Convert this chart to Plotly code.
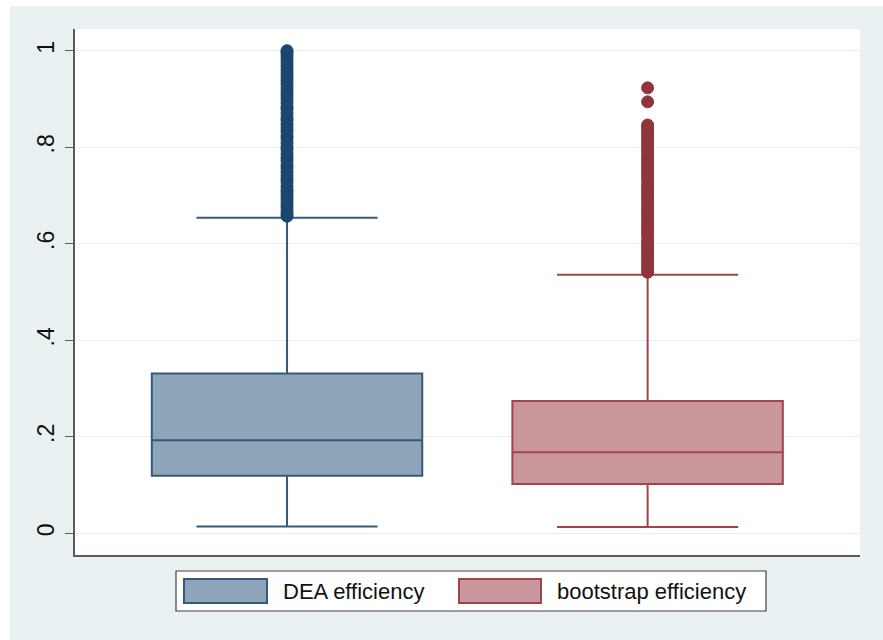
import plotly.graph_objects as go

# Summary statistics for each efficiency measure
series_names = ["DEA efficiency", "bootstrap efficiency"]
q1_vals = [0.119, 0.102]
median_vals = [0.193, 0.168]
q3_vals = [0.331, 0.274]
lower_fence = [0.014, 0.013]
upper_fence = [0.654, 0.536]

# Observations beyond the upper adjacent value
dea_outliers = [0.657, 0.662, 0.669, 0.677, 0.683, 0.691, 0.698, 0.706, 0.711, 0.719,
                0.728, 0.734, 0.741, 0.749, 0.757, 0.763, 0.772, 0.778, 0.786, 0.795,
                0.801, 0.809, 0.818, 0.824, 0.833, 0.840, 0.847, 0.856, 0.861, 0.870,
                0.879, 0.884, 0.892, 0.901, 0.908, 0.915, 0.923, 0.931, 0.938, 0.946,
                0.953, 0.961, 0.969, 0.977, 0.984, 0.991, 0.997, 1.0]
boot_outliers = [0.541, 0.546, 0.553, 0.560, 0.566, 0.574, 0.581, 0.587, 0.595, 0.602,
                 0.608, 0.617, 0.623, 0.631, 0.638, 0.644, 0.652, 0.659, 0.667, 0.673,
                 0.681, 0.689, 0.695, 0.703, 0.711, 0.718, 0.724, 0.733, 0.740, 0.746,
                 0.754, 0.762, 0.769, 0.776, 0.783, 0.791, 0.798, 0.805, 0.813, 0.820,
                 0.827, 0.834, 0.840, 0.846, 0.894, 0.923]
outlier_sets = [dea_outliers, boot_outliers]

y_ticks = [0, 0.2, 0.4, 0.6, 0.8, 1.0]
y_tick_labels = ["0", ".2", ".4", ".6", ".8", "1"]

fill_colors = ["#8ea4b8", "#c9969b"]
line_colors = ["#355a7d", "#a2444c"]
marker_colors = ["#1a476f", "#90353b"]

BG = "#eaf1f3"
FONT = "Liberation Sans, Arial, sans-serif"

fig = go.Figure()
for i in range(2):
    fig.add_trace(go.Box(
        x=[i], q1=[q1_vals[i]], median=[median_vals[i]], q3=[q3_vals[i]],
        lowerfence=[lower_fence[i]], upperfence=[upper_fence[i]],
        width=0.75, whiskerwidth=0.67, boxpoints=False,
        fillcolor=fill_colors[i], line=dict(color=line_colors[i], width=2),
        name=series_names[i], showlegend=False, hoverinfo="skip",
    ))
    fig.add_trace(go.Scatter(
        x=[i] * len(outlier_sets[i]), y=outlier_sets[i], mode="markers",
        marker=dict(size=12, color=marker_colors[i],
                    line=dict(color=marker_colors[i], width=1)),
        showlegend=False, hoverinfo="skip",
    ))

W, H = 883, 640
ml, mr, mt, mb = 75, 23, 29, 85
pw, ph = W - ml - mr, H - mt - mb


def px_x(x):
    return (x - ml) / pw


def px_y(y):
    return (H - mb - y) / ph


shapes = [
    # white strips around the graph region
    dict(type="rect", xref="paper", yref="paper", x0=px_x(0), x1=px_x(W),
         y0=px_y(0), y1=px_y(6), fillcolor="white", line=dict(width=0), layer="below"),
    dict(type="rect", xref="paper", yref="paper", x0=px_x(0), x1=px_x(10),
         y0=px_y(0), y1=px_y(H), fillcolor="white", line=dict(width=0), layer="below"),
    # legend frame
    dict(type="rect", xref="paper", yref="paper", x0=px_x(176), x1=px_x(766),
         y0=px_y(571), y1=px_y(611), fillcolor="white",
         line=dict(color="#404040", width=1.2)),
]
annotations = []
key_x = [(184, 267), (459, 541)]
text_x = [281, 555]
for i in range(2):
    shapes.append(dict(type="rect", xref="paper", yref="paper",
                       x0=px_x(key_x[i][0]), x1=px_x(key_x[i][1]),
                       y0=px_y(579), y1=px_y(603), fillcolor=fill_colors[i],
                       line=dict(color=line_colors[i], width=2)))
    annotations.append(dict(xref="paper", yref="paper", x=px_x(text_x[i]), y=px_y(591),
                            xanchor="left", yanchor="middle", showarrow=False,
                            text=series_names[i],
                            font=dict(family=FONT, size=22, color="#111111")))

fig.update_layout(
    width=W, height=H,
    margin=dict(l=ml, r=mr, t=mt, b=mb),
    paper_bgcolor=BG, plot_bgcolor="white",
    shapes=shapes, annotations=annotations,
    showlegend=False,
    xaxis=dict(range=[-0.588, 1.589], showticklabels=False, ticks="",
               showgrid=False, zeroline=False, showline=True,
               linecolor="#5a5a5a", linewidth=1.5),
    yaxis=dict(range=[-0.045, 1.045], tickvals=y_ticks, ticktext=y_tick_labels,
               tickangle=-90, ticks="outside", ticklen=8, tickcolor="#5a5a5a",
               tickwidth=1.2, showline=True, linecolor="#5a5a5a", linewidth=1.5,
               showgrid=True, gridcolor=BG, gridwidth=1.2, zeroline=False,
               ticklabelstandoff=2,
               tickfont=dict(family=FONT, size=23, color="#111111")),
)

fig.write_html("out.html")
